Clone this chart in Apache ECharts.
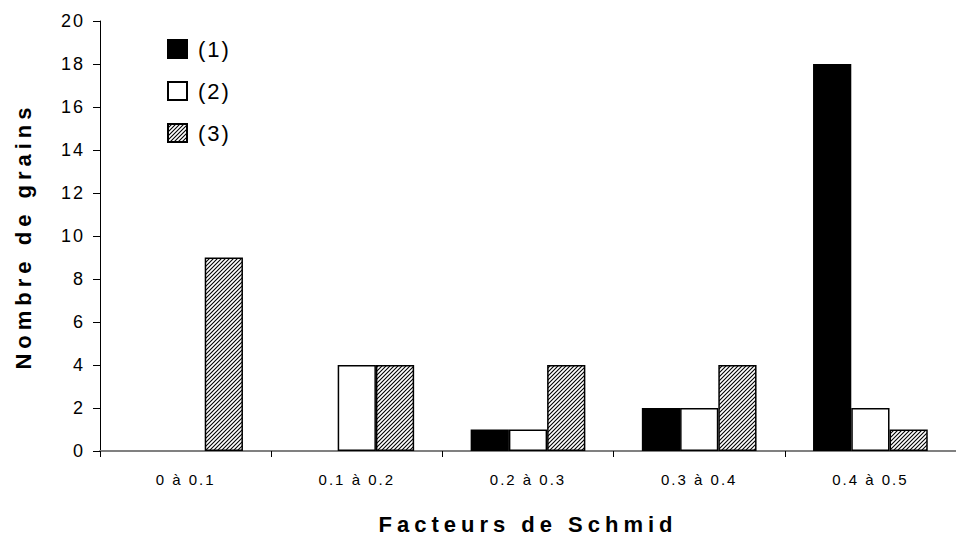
<!DOCTYPE html>
<html>
<head>
<meta charset="utf-8">
<script src="https://cdn.jsdelivr.net/npm/echarts@6/dist/echarts.min.js"></script>
<style>
  html, body { margin: 0; padding: 0; background: #fff; }
  #chart { width: 956px; height: 540px; }
</style>
</head>
<body>
<div id="chart"></div>
<script>
const categories = ['0 à 0.1', '0.1 à 0.2', '0.2 à 0.3', '0.3 à 0.4', '0.4 à 0.5'];
const seriesNames = ['(1)', '(2)', '(3)'];
const values1 = [0, 0, 1, 2, 18];
const values2 = [0, 4, 1, 2, 2];
const values3 = [9, 4, 4, 4, 1];

// hatch pattern "////" for series (3)
function makeHatch() {
    const c = document.createElement('canvas');
    c.width = 4;
    c.height = 4;
    const ctx = c.getContext('2d');
    ctx.fillStyle = '#fff';
    ctx.fillRect(0, 0, 4, 4);
    ctx.strokeStyle = '#000';
    ctx.lineWidth = 1.1;
    ctx.beginPath();
    ctx.moveTo(0, 4); ctx.lineTo(4, 0);
    ctx.moveTo(-1, 1); ctx.lineTo(1, -1);
    ctx.moveTo(3, 5); ctx.lineTo(5, 3);
    ctx.stroke();
    return c.toDataURL();
}
const hatch = { image: makeHatch(), repeat: 'repeat' };

// zero bars should not leave a border line on the axis
function barData(values) {
    return values.map(v => v === 0 ? { value: v, itemStyle: { borderWidth: 0 } } : v);
}

const font = 'Liberation Sans, Arial, sans-serif';
const chart = echarts.init(document.getElementById('chart'), null, { renderer: 'svg' });

chart.setOption({
    animation: false,
    textStyle: { fontFamily: font },
    legend: {
        orient: 'vertical',
        left: 167,
        top: 38,
        padding: 0,
        itemWidth: 19,
        itemHeight: 18,
        itemGap: 20,
        icon: 'rect',
        textStyle: { fontSize: 22, color: '#000', lineHeight: 18, padding: [0, 0, 0, 6] },
        data: seriesNames
    },
    grid: {
        left: 100,
        width: 862,
        top: 21,
        bottom: 88,
        containLabel: false
    },
    xAxis: {
        type: 'category',
        data: categories,
        name: 'Facteurs de Schmid',
        nameLocation: 'middle',
        nameGap: 62,
        nameTextStyle: { fontSize: 22, fontWeight: 'bold', color: '#000' },
        axisLine: { lineStyle: { color: '#808080', width: 2 } },
        axisTick: { show: true, length: 6, lineStyle: { color: '#000' } },
        axisLabel: { fontSize: 15, color: '#000', margin: 21 }
    },
    yAxis: {
        type: 'value',
        min: 0,
        max: 20,
        interval: 2,
        name: 'Nombre de grains',
        nameLocation: 'middle',
        nameGap: 66,
        nameTextStyle: { fontSize: 22, fontWeight: 'bold', color: '#000' },
        axisLine: { show: true, lineStyle: { color: '#000', width: 1 } },
        axisTick: { show: true, length: 7, lineStyle: { color: '#000' } },
        axisLabel: { fontSize: 18, color: '#000', margin: 15 },
        splitLine: { show: false }
    },
    series: [
        {
            name: seriesNames[0],
            type: 'bar',
            data: barData(values1),
            barGap: '0%',
            barCategoryGap: '33%',
            itemStyle: { color: '#000', borderColor: '#000', borderWidth: 1.5 }
        },
        {
            name: seriesNames[1],
            type: 'bar',
            data: barData(values2),
            itemStyle: { color: '#fff', borderColor: '#000', borderWidth: 1.5 }
        },
        {
            name: seriesNames[2],
            type: 'bar',
            data: barData(values3),
            itemStyle: { color: hatch, borderColor: '#000', borderWidth: 1.5 }
        }
    ]
});

// the original chart has wide letter spacing on all its text
function spaceLetters() {
    document.querySelectorAll('#chart text').forEach(t => {
        const bold = (t.getAttribute('style') || '').indexOf('bold') >= 0;
        t.style.letterSpacing = bold ? '5px' : '2px';
    });
}
spaceLetters();
chart.on('finished', spaceLetters);
</script>
</body>
</html>
